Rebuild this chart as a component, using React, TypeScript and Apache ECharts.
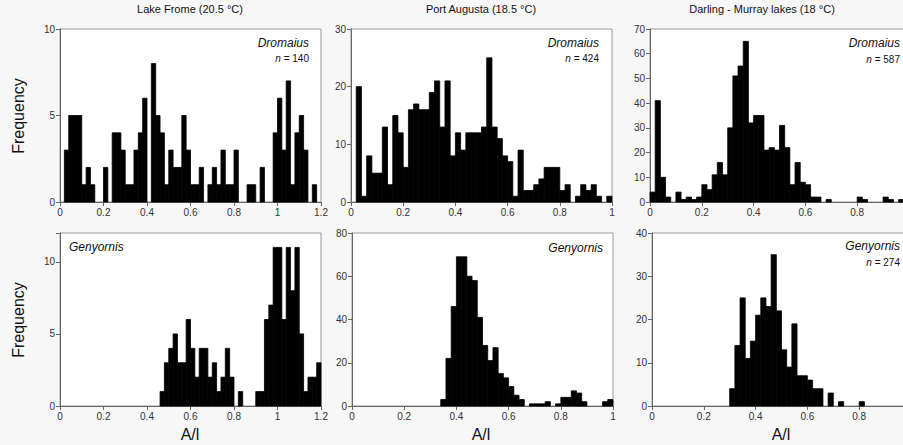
import React, { useEffect, useRef } from "react";
import * as echarts from "echarts";

const BIN = 0.02;

const lakeFromeDromaius = [0, 3, 5, 5, 5, 1, 2, 1, 0, 0, 2, 0, 4, 4, 3, 1, 1, 3, 4, 6, 0, 8, 5, 4, 1, 3, 2, 2, 5, 3, 1, 1, 2, 0, 1, 2, 1, 3, 1, 1, 3, 0, 0, 1, 1, 0, 2, 0, 0, 4, 6, 3, 7, 1, 4, 5, 3, 0, 1, 0];
const portAugustaDromaius = [0, 20, 1, 8, 5, 5, 13, 3, 15, 12, 6, 16, 17, 16, 16, 19, 21, 13, 21, 8, 12, 9, 12, 12, 12, 13, 25, 13, 11, 8, 7, 1, 9, 2, 2, 3, 4, 6, 6, 6, 2, 3, 0, 1, 3, 2, 3, 1, 0, 1];
const darlingDromaius = [4, 41, 10, 2, 0, 4, 1, 2, 1, 2, 7, 5, 11, 16, 11, 30, 51, 55, 65, 32, 35, 35, 21, 22, 21, 31, 22, 7, 16, 8, 7, 2, 2, 0, 1, 0, 0, 0, 0, 0, 2, 1, 0, 0, 0, 2, 1, 0, 1, 0];
const lakeFromeGenyornis = [0, 0, 0, 0, 0, 0, 0, 0, 0, 0, 0, 0, 0, 0, 0, 0, 0, 0, 0, 0, 0, 0, 0, 1, 3, 4, 5, 3, 3, 6, 4, 2, 4, 4, 2, 3, 1, 2, 4, 2, 0, 1, 0, 0, 0, 1, 1, 6, 7, 11, 11, 6, 11, 8, 11, 5, 1, 2, 2, 3];
const portAugustaGenyornis = [0, 0, 0, 0, 0, 0, 0, 0, 0, 0, 0, 0, 0, 0, 0, 0, 0, 3, 22, 46, 69, 69, 60, 58, 41, 28, 21, 27, 15, 13, 9, 5, 3, 0, 1, 1, 1, 2, 0, 1, 4, 4, 7, 6, 2, 0, 0, 0, 2, 3];
const darlingGenyornis = [0, 0, 0, 0, 0, 0, 0, 0, 0, 0, 0, 0, 0, 0, 0, 4, 14, 25, 11, 15, 21, 25, 23, 35, 22, 13, 9, 19, 7, 7, 6, 4, 4, 0, 3, 0, 1, 0, 0, 0, 1, 0, 0, 0, 0, 0, 0, 0, 0, 0];

const siteTitles = ["Lake Frome (20.5 °C)", "Port Augusta (18.5 °C)", "Darling - Murray lakes (18 °C)"];

const panels = [
  { data: lakeFromeDromaius, xMax: 1.2, yMax: 10, yStep: 5, left: 60, top: 29, width: 261 },
  { data: portAugustaDromaius, xMax: 1, yMax: 30, yStep: 10, left: 351, top: 29, width: 261 },
  { data: darlingDromaius, xMax: 1, yMax: 70, yStep: 10, left: 650, top: 29, width: 259 },
  { data: lakeFromeGenyornis, xMax: 1.2, yMax: 12, yStep: 5, left: 60, top: 233, width: 261 },
  { data: portAugustaGenyornis, xMax: 1, yMax: 80, yStep: 20, left: 352, top: 233, width: 261 },
  { data: darlingGenyornis, xMax: 1, yMax: 40, yStep: 10, left: 652, top: 233, width: 259 },
];

const App = () => {
  const chartRef = useRef<HTMLDivElement>(null);

  useEffect(() => {
    document.body.style.margin = "0";
    const myChart = echarts.init(chartRef.current, null, { renderer: "svg" });
    const font = "Liberation Sans, Arial, sans-serif";
    const labelStyle = { color: "#333", fontSize: 10, fontFamily: font };
    const lineStyle = { lineStyle: { color: "#666" } };

    const grid = panels.map((p) => ({
      left: p.left,
      top: p.top,
      width: p.width,
      height: 173,
      outerBoundsMode: "none",
      show: true,
      borderColor: "#999",
      backgroundColor: "#fff",
    }));

    const xAxis = panels.map((p, i) => ({
      type: "value",
      gridIndex: i,
      min: 0,
      max: p.xMax,
      interval: 0.2,
      splitLine: { show: false },
      axisLine: lineStyle,
      axisTick: { show: true, length: 4, ...lineStyle },
      // the right-hand panels run past the edge of the picture
      axisLabel: { ...labelStyle, margin: 5, showMaxLabel: p.width !== 259 },
    }));

    const yAxis = panels.map((p, i) => ({
      type: "value",
      gridIndex: i,
      min: 0,
      max: p.yMax,
      interval: p.yStep,
      splitLine: { show: false },
      axisLine: { show: true, ...lineStyle },
      axisTick: { show: true, length: 4, ...lineStyle },
      axisLabel: {
        ...labelStyle,
        margin: 5,
        formatter: (v: number) => (v % p.yStep === 0 ? String(v) : ""),
      },
    }));

    const series = panels.map((p, i) => ({
      type: "custom",
      xAxisIndex: i,
      yAxisIndex: i,
      data: p.data.map((v, k) => [k * BIN, v]),
      renderItem: (params: any, api: any) => {
        const x0 = api.value(0);
        const y = api.value(1);
        if (!y) return null;
        const a = api.coord([x0, y]);
        const b = api.coord([x0 + BIN, 0]);
        return {
          type: "rect",
          shape: { x: a[0], y: a[1], width: b[0] - a[0], height: b[1] - a[1] },
          style: { fill: "#000", stroke: "#000", lineWidth: 0.8 },
        };
      },
    }));

    const txt = (x: number, y: number, text: string, align: string, extra: any = {}, rotation = 0) => ({
      type: "text",
      x,
      y,
      rotation,
      style: { text, align, verticalAlign: "middle", fontFamily: font, fontSize: 11, fill: "#111", ...extra },
    });
    const nLabel = (x: number, y: number, n: number) => ({
      type: "text",
      x,
      y,
      style: {
        text: `{i|n} = ${n}`,
        align: "right",
        verticalAlign: "middle",
        fontFamily: font,
        fontSize: 10,
        fill: "#111",
        rich: { i: { fontStyle: "italic", fontFamily: font, fontSize: 10, fill: "#111" } },
      },
    });

    const graphic = [
      txt(190, 9, siteTitles[0], "center"),
      txt(481, 9, siteTitles[1], "center"),
      txt(762, 9, siteTitles[2], "center"),
      txt(309, 43, "Dromaius", "right", { fontStyle: "italic", fontSize: 12 }),
      nLabel(309, 58, 140),
      txt(599, 43, "Dromaius", "right", { fontStyle: "italic", fontSize: 12 }),
      nLabel(599, 58, 424),
      txt(900, 43, "Dromaius", "right", { fontStyle: "italic", fontSize: 12 }),
      nLabel(900, 59, 587),
      txt(69, 247, "Genyornis", "left", { fontStyle: "italic", fontSize: 12 }),
      txt(603, 248, "Genyornis", "right", { fontStyle: "italic", fontSize: 12 }),
      txt(900, 246, "Genyornis", "right", { fontStyle: "italic", fontSize: 12 }),
      nLabel(900, 262, 274),
      txt(18, 116, "Frequency", "center", { fontSize: 16 }, Math.PI / 2),
      txt(18, 320, "Frequency", "center", { fontSize: 16 }, Math.PI / 2),
      txt(190, 434, "A/l", "center", { fontSize: 16 }),
      txt(481, 434, "A/l", "center", { fontSize: 16 }),
      txt(781, 434, "A/l", "center", { fontSize: 16 }),
    ];

    myChart.setOption({
      animation: false,
      backgroundColor: "#f7f7f7",
      grid,
      xAxis,
      yAxis,
      series,
      graphic,
    });

    return () => {
      myChart.dispose();
    };
  }, []);

  return <div ref={chartRef} style={{ width: 903, height: 445 }}></div>;
};

export default App;
